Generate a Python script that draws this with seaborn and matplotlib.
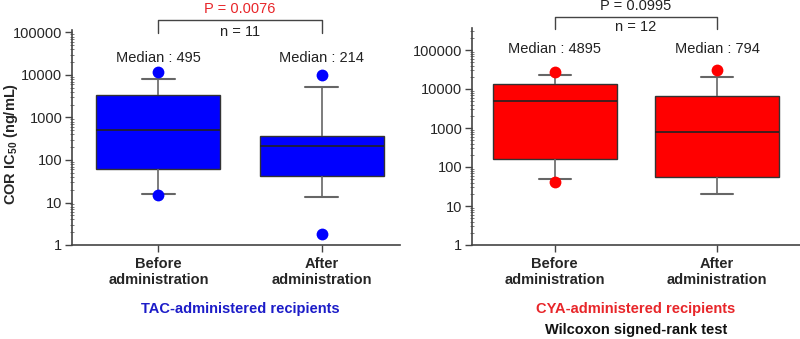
import numpy as np
import pandas as pd
import matplotlib
matplotlib.use("Agg")
import matplotlib.pyplot as plt
import matplotlib.ticker as mticker
import seaborn as sns

# box statistics (ng/mL)
stages = ["Before\nadministration", "After\nadministration"]

tac_whislo = [16, 13.5]
tac_q1 = [62, 42]
tac_median = [495, 214]
tac_q3 = [3400, 360]
tac_whishi = [8000, 5300]
tac_outliers = [[11700, 15], [10000, 1.8]]

cya_whislo = [50, 20]
cya_q1 = [160, 55]
cya_median = [4895, 794]
cya_q3 = [13500, 6500]
cya_whishi = [23000, 20000]
cya_outliers = [[27000, 42], [31000]]

tac_label = ["Median : 495", "Median : 214"]
cya_label = ["Median : 4895", "Median : 794"]


def box_frame(wlo, q1, med, q3, whi):
    rows = []
    for i, s in enumerate(stages):
        for v in [wlo[i], q1[i], med[i], q3[i], whi[i]]:
            rows.append({"stage": s, "value": v})
    return pd.DataFrame(rows)


def outlier_frame(outs):
    rows = []
    for i, s in enumerate(stages):
        for v in outs[i]:
            rows.append({"stage": s, "value": v})
    return pd.DataFrame(rows)


sns.set_style("ticks")
plt.rcParams["font.family"] = ["Liberation Sans", "DejaVu Sans"]
plt.rcParams["mathtext.fontset"] = "custom"
plt.rcParams["mathtext.bf"] = "Liberation Sans:bold"
plt.rcParams["mathtext.rm"] = "Liberation Sans"

FS = 10.5

fig = plt.figure(figsize=(8, 3.39), dpi=100)
ax1 = fig.add_axes([0.09, 1 - 245 / 339, 0.41, 215 / 339])
ax2 = fig.add_axes([0.59, 1 - 245 / 339, 0.41, 217 / 339])


def draw_panel(ax, df, out, color, ytop, xlim):
    sns.boxplot(data=df, x="stage", y="value", order=stages, ax=ax,
                whis=(0, 100), log_scale=True, showfliers=False,
                color=color, saturation=1, width=0.76, linewidth=1,
                capwidths=0.2,
                boxprops={"edgecolor": "#333333"},
                medianprops={"color": "#222222", "linewidth": 1.2},
                whiskerprops={"color": "#666666", "linewidth": 1.2},
                capprops={"color": "#666666", "linewidth": 1.5})
    sns.stripplot(data=out, x="stage", y="value", order=stages, ax=ax,
                  jitter=False, log_scale=True, color=color, size=8.5,
                  linewidth=0, zorder=5)
    ax.set_ylim(1, ytop)
    ax.set_xlim(*xlim)
    ax.yaxis.set_major_locator(mticker.FixedLocator([1, 10, 100, 1000, 10000, 100000]))
    ax.yaxis.set_major_formatter(mticker.FuncFormatter(lambda v, p: f"{v:.0f}"))
    ax.yaxis.set_minor_locator(mticker.LogLocator(base=10, subs=np.arange(2, 10)))
    ax.yaxis.set_minor_formatter(mticker.NullFormatter())
    ax.tick_params(axis="y", which="major", length=5, width=1, color="#444444",
                   labelsize=FS, pad=2)
    ax.tick_params(axis="y", which="minor", length=2.5, width=0.6,
                   direction="inout", color="#666666")
    ax.tick_params(axis="x", length=5, width=1, color="#444444", labelsize=FS)
    for lab in ax.get_xticklabels():
        lab.set_fontweight("bold")
    sns.despine(ax=ax)
    for sp in ["left", "bottom"]:
        ax.spines[sp].set_color("#444444")
        ax.spines[sp].set_linewidth(1.2)
    ax.set_xlabel("")
    ax.set_ylabel("")


draw_panel(ax1, box_frame(tac_whislo, tac_q1, tac_median, tac_q3, tac_whishi),
           outlier_frame(tac_outliers), "#0000ff", 10 ** (215 / 42.5), (-0.53, 1.48))
draw_panel(ax2, box_frame(cya_whislo, cya_q1, cya_median, cya_q3, cya_whishi),
           outlier_frame(cya_outliers), "#ff0000", 10 ** (217 / 39.0), (-0.51, 1.51))

ax1.set_ylabel(r"COR IC$_\mathbf{50}$ (ng/mL)", fontsize=FS, fontweight="bold")
ax1.yaxis.set_label_coords(-0.16, 0.47)


def bracket(ax, y_bar, y_leg, p_text, p_color, y_p, n_text, y_n, y_med, meds):
    tr = ax.get_xaxis_transform()
    ax.plot([0, 0, 1, 1], [y_leg, y_bar, y_bar, y_leg], transform=tr,
            color="#444444", lw=1, clip_on=False)
    ax.text(0.5, y_p, p_text, transform=tr, ha="center", va="center",
            fontsize=FS, color=p_color)
    ax.text(0.5, y_n, n_text, transform=tr, ha="center", va="center",
            fontsize=FS, color="#222222")
    for i, m in enumerate(meds):
        ax.text(i, y_med, m, transform=tr, ha="center", va="center",
                fontsize=FS, color="#222222")


bracket(ax1, (245 - 20) / 215, (245 - 33) / 215, "P = 0.0076", "#e8262a",
        (245 - 9) / 215, "n = 11", (245 - 32) / 215, (245 - 58) / 215, tac_label)
bracket(ax2, (245 - 17) / 217, (245 - 29) / 217, "P = 0.0995", "#222222",
        (245 - 6) / 217, "n = 12", (245 - 27) / 217, (245 - 49) / 217, cya_label)

fig.text(240 / 800, 1 - 309 / 339, "TAC-administered recipients", ha="center",
         va="center", fontsize=FS, fontweight="bold", color="#1c1cc8")
fig.text(636 / 800, 1 - 309 / 339, "CYA-administered recipients", ha="center",
         va="center", fontsize=FS, fontweight="bold", color="#e8262a")
fig.text(636 / 800, 1 - 330 / 339, "Wilcoxon signed-rank test", ha="center",
         va="center", fontsize=FS, fontweight="bold", color="#111111")

fig.savefig("out.png", dpi=100)
